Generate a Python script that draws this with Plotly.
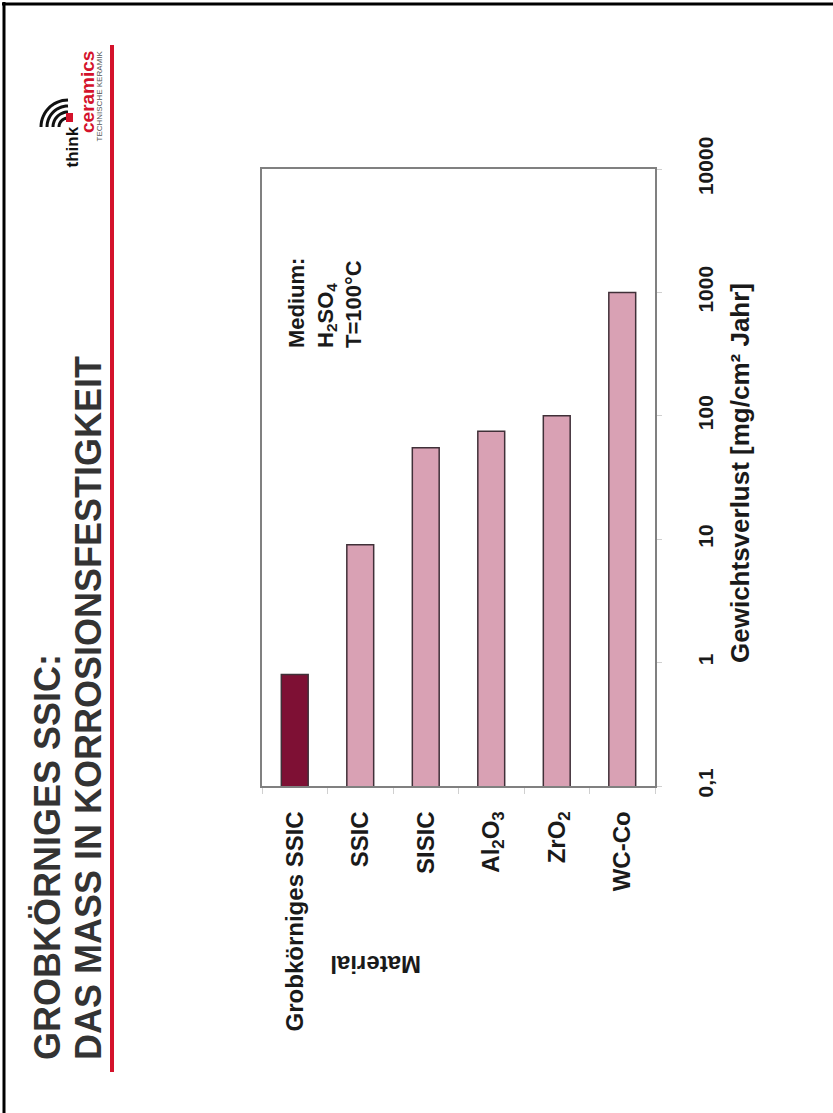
import numpy as np
import plotly.graph_objects as go

# ---------------- data ----------------
materials = ["Grobkörniges SSIC", "SSIC", "SISIC",
             "Al<sub>2</sub>O<sub>3</sub>", "ZrO<sub>2</sub>", "WC-Co"]
weight_loss = [0.8, 9, 55, 75, 100, 1000]
bar_colors = ["#7e1034", "#d9a1b4", "#d9a1b4", "#d9a1b4", "#d9a1b4", "#d9a1b4"]
y_tickvals = [0.1, 1, 10, 100, 1000, 10000]
y_ticktext = ["0,1", "1", "10", "100", "1000", "10000"]

# ---------------- layout geometry (pixel -> paper) ----------------
W, H = 833, 1113
L, R, T, B = 262, 655, 169, 786


def px(x):
    return (x - L) / (R - L)


def py(y):
    return (B - y) / (B - T)


FONT = "Arial, Liberation Sans, Helvetica, sans-serif"
DARK = "#1a1a1a"

fig = go.Figure()
fig.add_trace(go.Bar(
    x=materials, y=weight_loss,
    marker=dict(color=bar_colors, line=dict(color="#403038", width=1.5)),
    showlegend=False,
))

annotations = []
shapes = []

# title lines (rotated)
annotations.append(dict(text="GROBKÖRNIGES SSIC:", x=px(47), y=py(1062), xref="paper", yref="paper",
                        xanchor="center", yanchor="bottom", textangle=-90, showarrow=False,
                        font=dict(family=FONT, size=36, color="#333333", weight="bold")))
annotations.append(dict(text="DAS MASS IN KORROSIONSFESTIGKEIT", x=px(88), y=py(1062), xref="paper", yref="paper",
                        xanchor="center", yanchor="bottom", textangle=-90, showarrow=False,
                        font=dict(family=FONT, size=36, color="#333333", weight="bold")))

# medium note
annotations.append(dict(text="Medium:<br>H<sub>2</sub>SO<sub>4</sub><br>T=100°C", x=px(325), y=py(350),
                        xref="paper", yref="paper", xanchor="center", yanchor="bottom", align="left",
                        textangle=-90, showarrow=False,
                        font=dict(family=FONT, size=22, color=DARK, weight="bold")))

# y-axis title (value axis)
annotations.append(dict(text="Gewichtsverlust [mg/cm² Jahr]", x=px(740), y=py(473), xref="paper", yref="paper",
                        xanchor="center", yanchor="middle", textangle=-90, showarrow=False,
                        font=dict(family=FONT, size=26, color=DARK, weight="bold")))

# category axis title (upside down)
annotations.append(dict(text="Material", x=px(376), y=py(965), xref="paper", yref="paper",
                        xanchor="center", yanchor="middle", textangle=180, showarrow=False,
                        font=dict(family=FONT, size=24, color=DARK, weight="bold")))

# logo texts
annotations.append(dict(text="think", x=px(72), y=py(170), xref="paper", yref="paper",
                        xanchor="center", yanchor="bottom", textangle=-90, showarrow=False,
                        font=dict(family=FONT, size=17, color="#111111", weight="bold")))
annotations.append(dict(text="ceramics", x=px(87), y=py(49), xref="paper", yref="paper",
                        xanchor="center", yanchor="top", textangle=-90, showarrow=False,
                        font=dict(family=FONT, size=19, color="#d4122b", weight="bold")))
annotations.append(dict(text="TECHNISCHE KERAMIK", x=px(99), y=py(49), xref="paper", yref="paper",
                        xanchor="center", yanchor="top", textangle=-90, showarrow=False,
                        font=dict(family=FONT, size=8, color="#555555")))

# logo arcs
cx, cy = 68, 127
for r in [9, 15, 21, 27]:
    ang = np.linspace(np.pi, 1.5 * np.pi, 16)
    xs = cx + r * np.cos(ang)
    ys = cy + r * np.sin(ang)
    path = "M " + " L ".join(f"{px(a):.5f},{py(b):.5f}" for a, b in zip(xs, ys))
    shapes.append(dict(type="path", path=path, xref="paper", yref="paper",
                       line=dict(color="#111111", width=3)))
shapes.append(dict(type="rect", x0=px(66), x1=px(73), y0=py(122), y1=py(113), xref="paper", yref="paper",
                   fillcolor="#d4122b", line=dict(width=0)))

# red vertical rule
shapes.append(dict(type="line", x0=px(112), x1=px(112), y0=py(45), y1=py(1072), xref="paper", yref="paper",
                   line=dict(color="#d4122b", width=4)))
# page border (top & left)
shapes.append(dict(type="line", x0=px(2), x1=px(833), y0=py(4), y1=py(4), xref="paper", yref="paper",
                   line=dict(color="black", width=3)))
shapes.append(dict(type="line", x0=px(4), x1=px(4), y0=py(2), y1=py(1113), xref="paper", yref="paper",
                   line=dict(color="black", width=3)))

fig.update_layout(
    width=W, height=H,
    margin=dict(l=L, r=W - R, t=T, b=H - B, pad=0),
    paper_bgcolor="white", plot_bgcolor="white",
    bargap=0.59,
    annotations=annotations,
    shapes=shapes,
    font=dict(family=FONT, color=DARK),
    xaxis=dict(
        type="category", tickangle=-90,
        tickfont=dict(family=FONT, size=24, color=DARK, weight="bold"),
        showline=True, mirror=True, linecolor="#808080", linewidth=1.5,
        ticks="outside", tickson="boundaries", ticklen=6, tickcolor="#d0d0d0",
        ticklabelstandoff=14,
        showgrid=False, zeroline=False,
    ),
    yaxis=dict(
        type="log", range=[-1, 4], side="right",
        tickvals=y_tickvals, ticktext=y_ticktext, tickangle=-90,
        tickfont=dict(family=FONT, size=21, color=DARK, weight="bold"),
        showline=True, mirror=True, linecolor="#808080", linewidth=1.5,
        ticks="outside", ticklen=5, tickcolor="#d0d0d0", ticklabelstandoff=26,
        showgrid=False, zeroline=False,
    ),
)

fig.write_html("out.html")
